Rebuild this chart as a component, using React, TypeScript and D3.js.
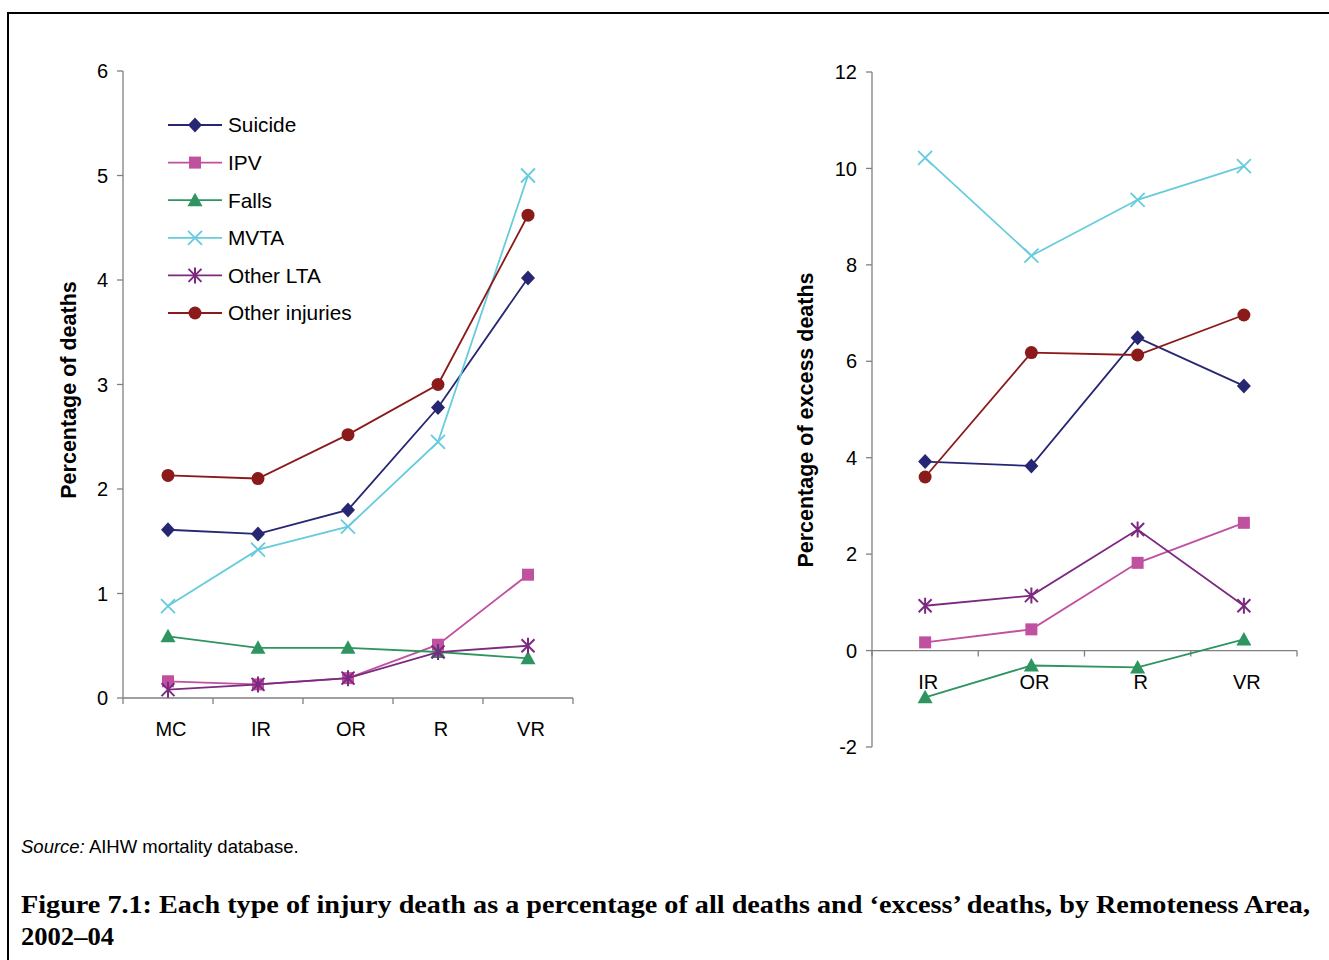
import React from "react";
import * as d3 from "d3";

const leftCategories = ["MC", "IR", "OR", "R", "VR"];
const rightCategories = ["IR", "OR", "R", "VR"];
const seriesNames = ["Suicide", "IPV", "Falls", "MVTA", "Other LTA", "Other injuries"];
const seriesColors = ["#262673", "#C050A0", "#2E9460", "#66CCDD", "#7B2A80", "#8B1A1A"];
const seriesMarkers = ["diamond", "square", "triangle", "x", "asterisk", "circle"];

const leftSuicide = [1.61, 1.57, 1.8, 2.78, 4.02];
const leftIPV = [0.16, 0.13, 0.19, 0.51, 1.18];
const leftFalls = [0.59, 0.48, 0.48, 0.44, 0.38];
const leftMVTA = [0.88, 1.42, 1.64, 2.45, 5.0];
const leftOtherLTA = [0.08, 0.13, 0.19, 0.44, 0.5];
const leftOtherInjuries = [2.13, 2.1, 2.52, 3.0, 4.62];

const rightSuicide = [3.92, 3.83, 6.49, 5.49];
const rightIPV = [0.17, 0.44, 1.82, 2.65];
const rightFalls = [-0.97, -0.31, -0.35, 0.23];
const rightMVTA = [10.22, 8.19, 9.35, 10.05];
const rightOtherLTA = [0.93, 1.14, 2.51, 0.93];
const rightOtherInjuries = [3.6, 6.18, 6.13, 6.96];

const leftTicks = [0, 1, 2, 3, 4, 5, 6];
const rightTicks = [-2, 0, 2, 4, 6, 8, 10, 12];

const leftSeries = [leftSuicide, leftIPV, leftFalls, leftMVTA, leftOtherLTA, leftOtherInjuries];
const rightSeries = [rightSuicide, rightIPV, rightFalls, rightMVTA, rightOtherLTA, rightOtherInjuries];

const FONT = "'Liberation Sans', Arial, sans-serif";
const SERIF = "'Liberation Serif', 'DejaVu Serif', serif";

function Marker({ type, x, y, color }: { type: string; x: number; y: number; color: string }) {
  switch (type) {
    case "diamond":
      return <path d={`M${x},${y - 7.5}L${x + 7},${y}L${x},${y + 7.5}L${x - 7},${y}Z`} fill={color} />;
    case "square":
      return <rect x={x - 6} y={y - 6} width={12} height={12} fill={color} />;
    case "triangle":
      return <path d={`M${x},${y - 7.5}L${x + 7.5},${y + 6}L${x - 7.5},${y + 6}Z`} fill={color} />;
    case "x":
      return (
        <path d={`M${x - 7},${y - 7}L${x + 7},${y + 7}M${x - 7},${y + 7}L${x + 7},${y - 7}`} stroke={color} strokeWidth={1.8} fill="none" />
      );
    case "asterisk":
      return (
        <path
          d={`M${x - 6.5},${y - 6.5}L${x + 6.5},${y + 6.5}M${x - 6.5},${y + 6.5}L${x + 6.5},${y - 6.5}M${x},${y - 8}L${x},${y + 8}`}
          stroke={color}
          strokeWidth={2}
          fill="none"
        />
      );
    default:
      return <circle cx={x} cy={y} r={6.5} fill={color} />;
  }
}

function Panel({
  categories,
  series,
  ticks,
  domain,
  x0,
  x1,
  yTop,
  yBottom,
  title,
  titleX,
  titleY,
}: {
  categories: string[];
  series: number[][];
  ticks: number[];
  domain: [number, number];
  x0: number;
  x1: number;
  yTop: number;
  yBottom: number;
  title: string;
  titleX: number;
  titleY: number;
}) {
  const x = d3.scaleBand<string>().domain(categories).range([x0, x1]).padding(0);
  const y = d3.scaleLinear().domain(domain).range([yBottom, yTop]);
  const y0 = y(Math.max(0, domain[0]));
  const line = d3
    .line<number>()
    .x((_, i) => (x(categories[i]) as number) + x.bandwidth() / 2)
    .y((d) => y(d));
  const bounds = [...categories.map((c) => x(c) as number), x1];
  return (
    <g>
      <line x1={x0} x2={x0} y1={yTop} y2={yBottom} stroke="#808080" strokeWidth={1.3} />
      {ticks.map((t) => (
        <g key={t}>
          <line x1={x0 - 6} x2={x0} y1={y(t)} y2={y(t)} stroke="#808080" strokeWidth={1.3} />
          <text x={x0 - 15} y={y(t)} dy="0.36em" textAnchor="end" fontSize={20} fontFamily={FONT} fill="#000">
            {t}
          </text>
        </g>
      ))}
      <line x1={x0} x2={x1} y1={y0} y2={y0} stroke="#808080" strokeWidth={1.3} />
      {bounds.map((b, i) => (
        <line key={i} x1={b} x2={b} y1={y0} y2={y0 + 6} stroke="#808080" strokeWidth={1.3} />
      ))}
      {categories.map((c) => (
        <text
          key={c}
          x={(x(c) as number) + x.bandwidth() / 2 + 3}
          y={y0 + 38}
          textAnchor="middle"
          fontSize={20}
          fontFamily={FONT}
          fill="#000"
        >
          {c}
        </text>
      ))}
      <text
        transform={`translate(${titleX},${titleY}) rotate(-90)`}
        textAnchor="middle"
        fontSize={21.5}
        fontWeight="bold"
        fontFamily={FONT}
        fill="#000"
      >
        {title}
      </text>
      {series.map((vals, si) => (
        <g key={si}>
          <path d={line(vals) || ""} fill="none" stroke={seriesColors[si]} strokeWidth={1.8} />
          {vals.map((v, i) => (
            <Marker
              key={i}
              type={seriesMarkers[si]}
              x={(x(categories[i]) as number) + x.bandwidth() / 2}
              y={y(v)}
              color={seriesColors[si]}
            />
          ))}
        </g>
      ))}
    </g>
  );
}

export default function App() {
  const legendY = d3.scalePoint<string>().domain(seriesNames).range([125, 313]);
  return (
    <svg
      width={1329}
      height={960}
      style={{ position: "fixed", left: 0, top: 0, background: "#fff" }}
      xmlns="http://www.w3.org/2000/svg"
    >
      <rect x={0} y={0} width={1329} height={960} fill="#fff" />
      <rect x={8} y={13} width={1400} height={1100} fill="none" stroke="#000" strokeWidth={2} />
      <Panel
        categories={leftCategories}
        series={leftSeries}
        ticks={leftTicks}
        domain={[0, 6]}
        x0={123}
        x1={573}
        yTop={71}
        yBottom={698}
        title="Percentage of deaths"
        titleX={76}
        titleY={390}
      />
      <Panel
        categories={rightCategories}
        series={rightSeries}
        ticks={rightTicks}
        domain={[-2, 12]}
        x0={872}
        x1={1297}
        yTop={72}
        yBottom={747}
        title="Percentage of excess deaths"
        titleX={813}
        titleY={420}
      />
      {seriesNames.map((n, i) => {
        const ly = legendY(n) as number;
        return (
          <g key={n}>
            <line x1={168} x2={222} y1={ly} y2={ly} stroke={seriesColors[i]} strokeWidth={1.8} />
            <Marker type={seriesMarkers[i]} x={195} y={ly} color={seriesColors[i]} />
            <text x={228} y={ly} dy="0.36em" fontSize={20.8} fontFamily={FONT} fill="#000">
              {n}
            </text>
          </g>
        );
      })}
      <text x={21} y={853} fontSize={18.5} fontFamily={FONT} fill="#000">
        <tspan fontStyle="italic">Source:</tspan> AIHW mortality database.
      </text>
      <text
        x={21}
        y={913}
        fontSize={26}
        fontWeight="bold"
        fontFamily={SERIF}
        fill="#000"
        textLength={1289}
        lengthAdjust="spacingAndGlyphs"
      >
        Figure 7.1: Each type of injury death as a percentage of all deaths and ‘excess’ deaths, by Remoteness Area,
      </text>
      <text x={21} y={945} fontSize={26} fontWeight="bold" fontFamily={SERIF} fill="#000" textLength={93} lengthAdjust="spacingAndGlyphs">
        2002–04
      </text>
    </svg>
  );
}
